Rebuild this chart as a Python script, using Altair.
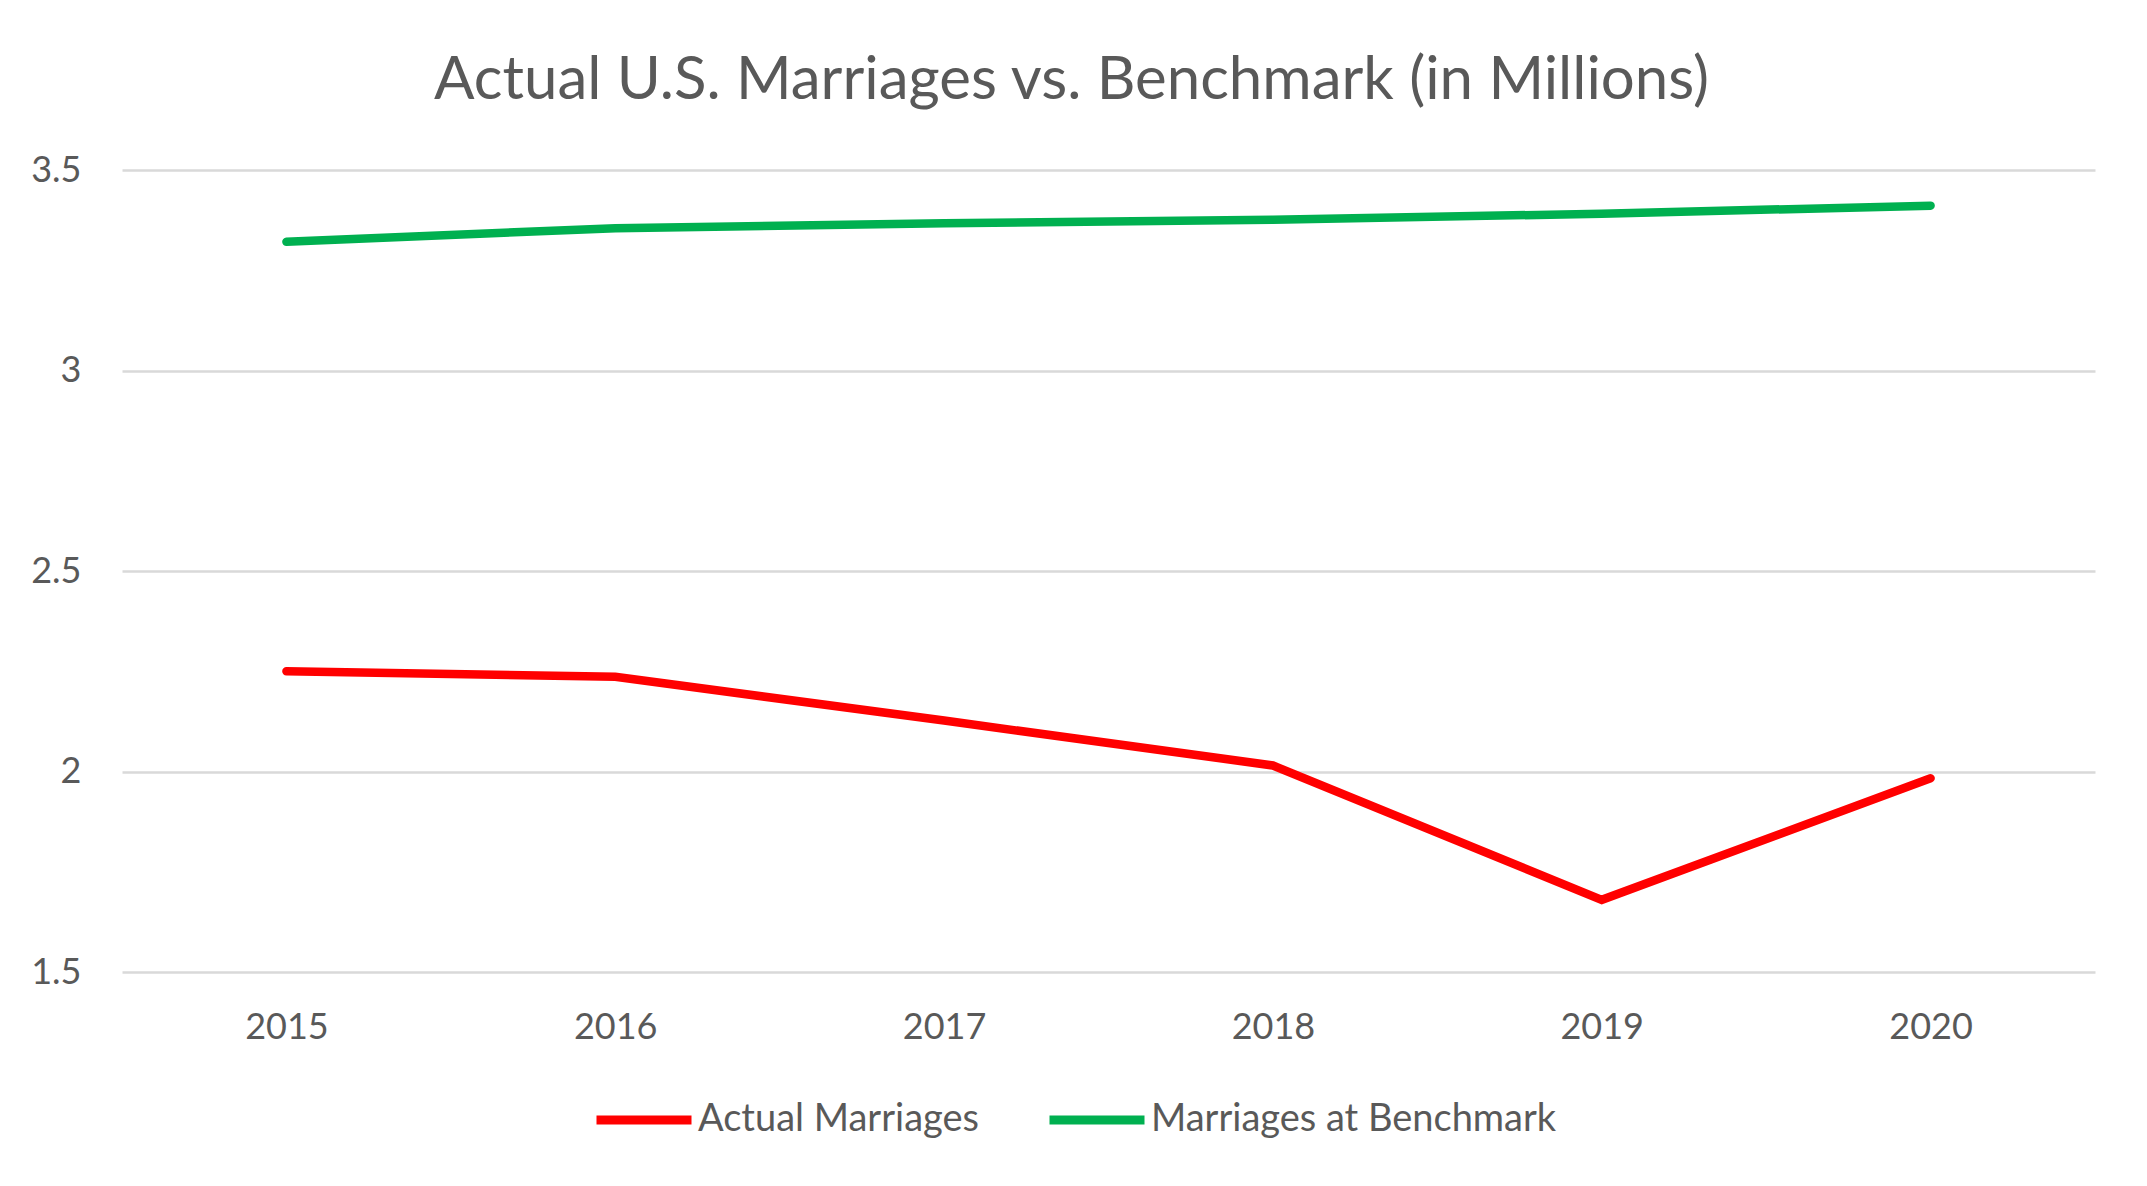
import altair as alt
import pandas as pd

years = ["2015", "2016", "2017", "2018", "2019", "2020"]
actual = [2.25, 2.236, 2.127, 2.015, 1.68, 1.983]
benchmark = [3.321, 3.355, 3.367, 3.376, 3.391, 3.411]
series_names = ["Actual Marriages", "Marriages at Benchmark"]
series_colors = ["#FF0000", "#00B050"]
y_ticks = [1.5, 2, 2.5, 3, 3.5]

rows = []
for name, vals in zip(series_names, [actual, benchmark]):
    for yr, v in zip(years, vals):
        rows.append({"Year": yr, "Value": v, "Series": name})
df = pd.DataFrame(rows)

FONT = "Lato"
TXT = "#595959"

chart = alt.Chart(df).mark_line(strokeWidth=8.5, strokeCap="round").encode(
    x=alt.X("Year:N", sort=years,
            scale=alt.Scale(paddingInner=1, paddingOuter=0.5),
            axis=alt.Axis(title=None, labelAngle=0, ticks=False, domain=False, grid=False,
                          labelPadding=38, labelBaseline="top", labelFontSize=36,
                          labelFont=FONT, labelColor=TXT)),
    y=alt.Y("Value:Q", scale=alt.Scale(domain=[1.5, 3.5], nice=False, zero=False),
            axis=alt.Axis(title=None, values=y_ticks, format="~g", ticks=False, domain=False,
                          grid=True, gridColor="#D9D9D9", gridWidth=2.5,
                          labelPadding=41, labelFontSize=36, labelFont=FONT, labelColor=TXT)),
    color=alt.Color("Series:N", sort=series_names,
                    scale=alt.Scale(domain=series_names, range=series_colors),
                    legend=alt.Legend(title=None, orient="none", direction="horizontal",
                                      legendX=470, legendY=898, symbolType="stroke",
                                      symbolStrokeWidth=9, symbolSize=9025,
                                      labelFontSize=38, labelFont=FONT, labelColor=TXT,
                                      labelLimit=1000,
                                      labelOffset=2, columnPadding=52, padding=0)),
    order=alt.Order("Year:N"),
).properties(
    width=1973,
    height=802,
    autosize=alt.AutoSizeParams(type="none"),
    padding={"left": 114, "top": 162, "right": 44, "bottom": 206},
    title=alt.TitleParams("Actual U.S. Marriages vs. Benchmark (in Millions)",
                          font=FONT, fontSize=60, fontWeight="normal", color=TXT,
                          anchor="middle", baseline="alphabetic", offset=0, dx=-37, dy=7),
).configure_view(stroke=None)

chart.save("out.html", embed_options={"renderer": "svg", "actions": False})
